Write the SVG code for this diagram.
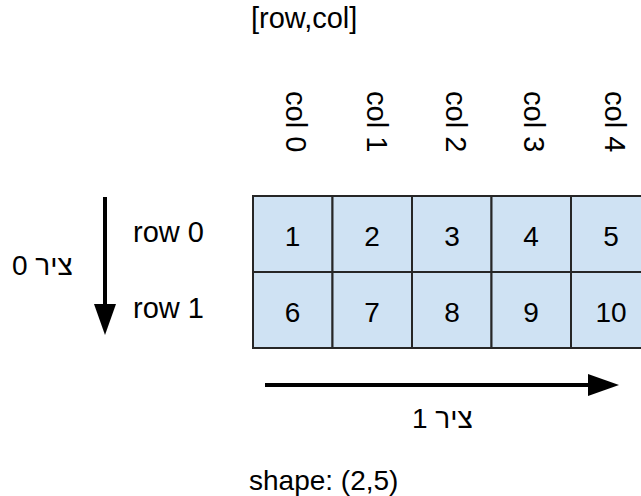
<svg xmlns="http://www.w3.org/2000/svg" width="641" height="496" viewBox="0 0 641 496">
  <style>
    text { font-family: "Liberation Sans", Arial, "DejaVu Sans", sans-serif; font-size: 29px; fill: #000; }
    .cell rect { fill: #cfe2f3; stroke: #262626; stroke-width: 2; }
    .cell text { text-anchor: middle; font-size: 28px; }
    .axis { stroke: #000; stroke-width: 4; fill: none; }
    .axis-label { font-size: 28px; }
  </style>
  <defs>
    <marker id="head" markerUnits="userSpaceOnUse" markerWidth="32" markerHeight="22" refX="0" refY="11" orient="auto">
      <path d="M0,0 L31,11 L0,22 Z" fill="#000"/>
    </marker>
  </defs>

  <rect width="641" height="496" fill="#fff"/>

  <!-- title -->
  <g id="title"><text x="251" y="28">[row,col]</text></g>

  <!-- column labels, written top to bottom -->
  <g id="col-labels">
    <text transform="rotate(90 286 91)" x="286" y="91">col 0</text>
    <text transform="rotate(90 367 91)" x="367" y="91">col 1</text>
    <text transform="rotate(90 446 91)" x="446" y="91">col 2</text>
    <text transform="rotate(90 524 91)" x="524" y="91">col 3</text>
    <text transform="rotate(90 605 91)" x="605" y="91">col 4</text>
  </g>

  <!-- row labels -->
  <g id="row-labels">
    <text x="133" y="242">row 0</text>
    <text x="133" y="318">row 1</text>
  </g>

  <!-- array cells -->
  <g id="cell-1" class="cell"><rect x="253" y="196" width="79.5" height="76"/><text x="292.5" y="246">1</text></g>
  <g id="cell-2" class="cell"><rect x="332.5" y="196" width="79.5" height="76"/><text x="372" y="246">2</text></g>
  <g id="cell-3" class="cell"><rect x="412" y="196" width="79.5" height="76"/><text x="452" y="246">3</text></g>
  <g id="cell-4" class="cell"><rect x="491.5" y="196" width="79.5" height="76"/><text x="531" y="246">4</text></g>
  <g id="cell-5" class="cell"><rect x="571" y="196" width="79.5" height="76"/><text x="611" y="246">5</text></g>
  <g id="cell-6" class="cell"><rect x="253" y="272" width="79.5" height="76"/><text x="292.5" y="322">6</text></g>
  <g id="cell-7" class="cell"><rect x="332.5" y="272" width="79.5" height="76"/><text x="372" y="322">7</text></g>
  <g id="cell-8" class="cell"><rect x="412" y="272" width="79.5" height="76"/><text x="452" y="322">8</text></g>
  <g id="cell-9" class="cell"><rect x="491.5" y="272" width="79.5" height="76"/><text x="531" y="322">9</text></g>
  <g id="cell-10" class="cell"><rect x="571" y="272" width="79.5" height="76"/><text x="611" y="322">10</text></g>

  <!-- axis arrows -->
  <g id="connectors">
    <line class="axis" x1="105" y1="197" x2="105" y2="304" marker-end="url(#head)"/>
    <line class="axis" x1="265" y1="385" x2="588" y2="385" marker-end="url(#head)"/>
  </g>

  <!-- axis labels -->
  <g id="axis0-label"><text class="axis-label" x="12" y="275">0 ציר</text></g>
  <g id="axis1-label"><text class="axis-label" x="412" y="428">1 ציר</text></g>

  <!-- shape caption -->
  <g id="shape-label"><text class="axis-label" x="249" y="490">shape: (2,5)</text></g>
</svg>
